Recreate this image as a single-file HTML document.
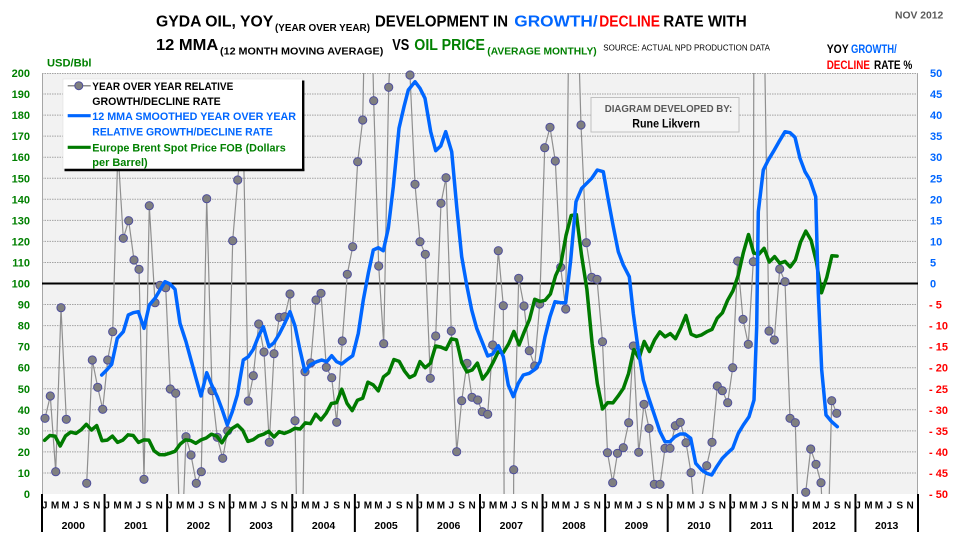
<!DOCTYPE html>
<html><head><meta charset="utf-8"><style>
html,body{margin:0;padding:0;background:#fff;width:960px;height:540px;overflow:hidden;}
svg{display:block;font-family:"Liberation Sans",Arial,sans-serif;font-weight:bold;}
</style></head><body>
<svg width="960" height="540" viewBox="0 0 960 540" xmlns="http://www.w3.org/2000/svg" overflow="hidden">
<defs>
<clipPath id="pc"><rect x="42" y="73" width="876" height="421"/></clipPath>
<marker id="dot" markerUnits="userSpaceOnUse" markerWidth="10" markerHeight="10" refX="5" refY="5" viewBox="0 0 10 10" overflow="visible">
<circle cx="5" cy="5" r="4.1" fill="#7f7f7f" stroke="#4f4f9c" stroke-width="1"/>
</marker>
</defs>
<rect width="960" height="540" fill="#fff"/>

<!-- Titles -->
<text x="156" y="26.7" font-size="16" textLength="117.3" lengthAdjust="spacingAndGlyphs">GYDA OIL, YOY</text>
<text x="275" y="31" font-size="10" textLength="95" lengthAdjust="spacingAndGlyphs">(YEAR OVER YEAR)</text>
<text x="375" y="26.7" font-size="16" textLength="133" lengthAdjust="spacingAndGlyphs">DEVELOPMENT IN</text>
<text x="514.3" y="26.7" font-size="16" fill="#0066ff" textLength="83.4" lengthAdjust="spacingAndGlyphs">GROWTH/</text>
<text x="599.3" y="26.7" font-size="16" fill="#ff0000" textLength="60.7" lengthAdjust="spacingAndGlyphs">DECLINE</text>
<text x="663.3" y="26.7" font-size="16" textLength="83.4" lengthAdjust="spacingAndGlyphs">RATE WITH</text>

<text x="156" y="50" font-size="16" textLength="62.3" lengthAdjust="spacingAndGlyphs">12 MMA</text>
<text x="220" y="54.3" font-size="10" textLength="163.3" lengthAdjust="spacingAndGlyphs">(12 MONTH MOVING AVERAGE)</text>
<text x="392.3" y="50" font-size="16" textLength="17" lengthAdjust="spacingAndGlyphs">VS</text>
<text x="414.3" y="50" font-size="16" fill="#008000" textLength="70.7" lengthAdjust="spacingAndGlyphs">OIL PRICE</text>
<text x="487.3" y="54.3" font-size="10" fill="#008000" textLength="109.4" lengthAdjust="spacingAndGlyphs">(AVERAGE MONTHLY)</text>
<text x="603.3" y="50.5" font-size="8" font-weight="normal" textLength="166.7" lengthAdjust="spacingAndGlyphs">SOURCE: ACTUAL NPD PRODUCTION DATA</text>

<text x="895" y="18.5" font-size="10" fill="#595959" textLength="48.3" lengthAdjust="spacingAndGlyphs">NOV 2012</text>

<text x="47" y="66.5" font-size="11" fill="#008000" textLength="44.5" lengthAdjust="spacingAndGlyphs">USD/Bbl</text>

<text x="826.7" y="53" font-size="11.5" textLength="22" lengthAdjust="spacingAndGlyphs">YOY</text>
<text x="851" y="53" font-size="11.5" fill="#0066ff" textLength="45.7" lengthAdjust="spacingAndGlyphs">GROWTH/</text>
<text x="826.7" y="69" font-size="11.5" fill="#ff0000" textLength="43.3" lengthAdjust="spacingAndGlyphs">DECLINE</text>
<text x="874" y="69" font-size="11.5" textLength="38.3" lengthAdjust="spacingAndGlyphs">RATE %</text>

<!-- Plot area -->
<rect x="42" y="73" width="876" height="421" fill="#f2f2f2"/>
<g stroke="#a3a3a3" stroke-width="1" stroke-dasharray="1.5,1">
<line x1="42" x2="918" y1="73.5" y2="73.5"/>
<line x1="42" x2="918" y1="94.05" y2="94.05"/>
<line x1="42" x2="918" y1="115.1" y2="115.1"/>
<line x1="42" x2="918" y1="136.15" y2="136.15"/>
<line x1="42" x2="918" y1="157.2" y2="157.2"/>
<line x1="42" x2="918" y1="178.25" y2="178.25"/>
<line x1="42" x2="918" y1="199.3" y2="199.3"/>
<line x1="42" x2="918" y1="220.35" y2="220.35"/>
<line x1="42" x2="918" y1="241.4" y2="241.4"/>
<line x1="42" x2="918" y1="262.45" y2="262.45"/>
<line x1="42" x2="918" y1="304.55" y2="304.55"/>
<line x1="42" x2="918" y1="325.6" y2="325.6"/>
<line x1="42" x2="918" y1="346.65" y2="346.65"/>
<line x1="42" x2="918" y1="367.7" y2="367.7"/>
<line x1="42" x2="918" y1="388.75" y2="388.75"/>
<line x1="42" x2="918" y1="409.8" y2="409.8"/>
<line x1="42" x2="918" y1="430.85" y2="430.85"/>
<line x1="42" x2="918" y1="451.9" y2="451.9"/>
<line x1="42" x2="918" y1="472.95" y2="472.95"/>
</g>
<line x1="42.5" y1="73" x2="42.5" y2="494" stroke="#a6a6a6" stroke-width="1"/>
<line x1="917.5" y1="73" x2="917.5" y2="494" stroke="#a6a6a6" stroke-width="1"/>
<line x1="42" y1="283.5" x2="918" y2="283.5" stroke="#000" stroke-width="2"/>

<!-- Left axis labels -->
<g font-size="11" fill="#008000" text-anchor="end">
<text x="30" y="77">200</text><text x="30" y="98">190</text><text x="30" y="119.1">180</text><text x="30" y="140.2">170</text><text x="30" y="161.2">160</text><text x="30" y="182.3">150</text><text x="30" y="203.3">140</text><text x="30" y="224.4">130</text><text x="30" y="245.4">120</text><text x="30" y="266.5">110</text><text x="30" y="287.5">100</text><text x="30" y="308.6">90</text><text x="30" y="329.6">80</text><text x="30" y="350.7">70</text><text x="30" y="371.7">60</text><text x="30" y="392.8">50</text><text x="30" y="413.8">40</text><text x="30" y="434.9">30</text><text x="30" y="455.9">20</text><text x="30" y="477">10</text><text x="30" y="498">0</text>
</g>
<!-- Right axis labels -->
<g font-size="11" fill="#0066ff">
<text x="930" y="77">50</text><text x="930" y="98">45</text><text x="930" y="119.1">40</text><text x="930" y="140.2">35</text><text x="930" y="161.2">30</text><text x="930" y="182.3">25</text><text x="930" y="203.3">20</text><text x="930" y="224.4">15</text><text x="930" y="245.4">10</text><text x="930" y="266.5">5</text><text x="930" y="287.5">0</text>
</g>
<g font-size="11" fill="#ff0000">
<text x="929" y="308.6">- 5</text><text x="929" y="329.6">- 10</text><text x="929" y="350.7">- 15</text><text x="929" y="371.7">- 20</text><text x="929" y="392.8">- 25</text><text x="929" y="413.8">- 30</text><text x="929" y="434.9">- 35</text><text x="929" y="455.9">- 40</text><text x="929" y="477">- 45</text><text x="929" y="498">- 50</text>
</g>

<!-- Series -->
<g clip-path="url(#pc)" fill="none" stroke-linejoin="round">
<polyline stroke="#8f8f8f" stroke-width="1.2" points="45,418.3 50.3,396 55.7,471.7 61,307.7 66.3,419.3"/>
<polyline stroke="#8f8f8f" stroke-width="1.2" points="86.7,483.3 92.3,360 97.7,387.3 102.7,409.3 107.7,360 112.7,331.7 117.9,150 123.3,238.3 128.7,220.7 134,260 139,269.3 144,479.3 149.3,205.7 155,302.7 160,285.3 165.7,287.7 170.3,389 175.7,393.3 178.8,497 183.7,497 186,436.7 191,455 196.3,483.3 201.3,471.7 206.7,198.7 212,390.7 217.3,437.3 222.7,458.3 227.7,430.7 232.7,240.7 237.7,180 243,120 248.3,401 253.3,375.7 258.7,324 264,352 269.3,442.3 274,353.7 279.3,317.3 284.7,316.7 290,294 295,420.7 296.4,497 303.1,497 305,371.7 310.7,363 316,300 321,293.3 326.3,367.3 331.7,377.7 336.7,422.3 342.3,341 347.3,274.3 352.7,246.7 357.7,161.7 362.7,120 363.7,70 373,70 373.7,100.7 378.7,266 383.7,343.7 388.7,87.3 389.5,70 409.9,70 410,75 415,184.3 420,241.7 425.3,254.3 430.3,378.3 435.7,336 441,203.3 446,177.7 451.3,331 456.7,451.7 461.7,400.7 467,363.3 472,397.3 477.7,400 482.3,411.7 487.7,414.3 492.7,345 498.3,250.7 503.3,305.7 504.1,497 513.6,497 513.7,469.7 518.7,278.3 524,306 529.3,350.7 534.7,366 539.7,304 544.7,147.7 550,127.3 555.3,161 560.7,267.3 565.7,309 568.3,70 579.4,70 581,125 586.3,242.7 591.7,277.3 597,279.3 602.5,341.7 607.5,452.7 612.7,482.7 617.5,453.3 623.3,447.7 628.7,422.7 633.3,346 638.7,452.3 644,404.3 649,428.3 654.3,484.3 660,484.3 665,448.3 670,448.3 675.3,425.7 680.3,422.3 686,442.7 691,472.7 693.2,497 702,497 706.7,465.7 712,442.3 717.3,386 722.3,390.7 727.7,402.7 732.7,367.7 737.7,261 743,319.3 748.3,344.3 753.3,261.7 753.8,70 764.9,70 769,331 774.3,340 779.7,269 785,281.7 790,418.3 795.3,422.7 797.5,497 805.5,497 805.7,492.3 810.7,449 816,464.3 821,482.7 821.7,497 829.2,497 831.7,400.7 836.7,413.3"/>
</g>
<polyline fill="none" stroke="none" marker-start="url(#dot)" marker-mid="url(#dot)" marker-end="url(#dot)" points="45,418.3 50.3,396 55.7,471.7 61,307.7 66.3,419.3 86.7,483.3 92.3,360 97.7,387.3 102.7,409.3 107.7,360 112.7,331.7 123.3,238.3 128.7,220.7 134,260 139,269.3 144,479.3 149.3,205.7 155,302.7 160,285.3 165.7,287.7 170.3,389 175.7,393.3 186,436.7 191,455 196.3,483.3 201.3,471.7 206.7,198.7 212,390.7 217.3,437.3 222.7,458.3 227.7,430.7 232.7,240.7 237.7,180 248.3,401 253.3,375.7 258.7,324 264,352 269.3,442.3 274,353.7 279.3,317.3 284.7,316.7 290,294 295,420.7 305,371.7 310.7,363 316,300 321,293.3 326.3,367.3 331.7,377.7 336.7,422.3 342.3,341 347.3,274.3 352.7,246.7 357.7,161.7 362.7,120 373.7,100.7 378.7,266 383.7,343.7 388.7,87.3 410,75 415,184.3 420,241.7 425.3,254.3 430.3,378.3 435.7,336 441,203.3 446,177.7 451.3,331 456.7,451.7 461.7,400.7 467,363.3 472,397.3 477.7,400 482.3,411.7 487.7,414.3 492.7,345 498.3,250.7 503.3,305.7 513.7,469.7 518.7,278.3 524,306 529.3,350.7 534.7,366 539.7,304 544.7,147.7 550,127.3 555.3,161 560.7,267.3 565.7,309 581,125 586.3,242.7 591.7,277.3 597,279.3 602.5,341.7 607.5,452.7 612.7,482.7 617.5,453.3 623.3,447.7 628.7,422.7 633.3,346 638.7,452.3 644,404.3 649,428.3 654.3,484.3 660,484.3 665,448.3 670,448.3 675.3,425.7 680.3,422.3 686,442.7 691,472.7 706.7,465.7 712,442.3 717.3,386 722.3,390.7 727.7,402.7 732.7,367.7 737.7,261 743,319.3 748.3,344.3 753.3,261.7 769,331 774.3,340 779.7,269 785,281.7 790,418.3 795.3,422.7 805.7,492.3 810.7,449 816,464.3 821,482.7 831.7,400.7 836.7,413.3"/>

<g clip-path="url(#pc)" fill="none" stroke-linejoin="round" stroke-linecap="round">
<polyline stroke="#007a00" stroke-width="3.5" points="44.6,440.3 49.8,435.5 55,436.1 60.2,446 65.5,435.9 70.7,432.1 75.9,433.4 81.1,429.8 86.3,424.3 91.5,430 96.7,425.6 102,440.7 107.2,440.1 112.4,436.1 117.6,442.4 122.8,440.1 128,434.8 133.2,435.5 138.5,442.4 143.7,439.9 148.9,440.1 154.1,450.8 159.3,454.6 164.5,454.8 169.7,453.2 175,451.3 180.2,444.1 185.4,439.9 190.6,440.5 195.8,443.3 201,439.9 206.2,438 211.4,434.2 216.7,436.1 221.9,442.8 227.1,434.4 232.3,428.3 237.5,425 242.7,430.2 247.9,441.4 253.2,439.7 258.4,435.9 263.6,434.2 268.8,431.3 274,437 279.2,431.7 284.4,433.4 289.7,431.3 294.9,428.3 300.1,429 305.3,422.9 310.5,423.7 315.7,414.2 320.9,419.9 326.2,413.2 331.4,403.5 336.6,402.6 341.8,389.2 347,403.3 352.2,410.6 357.4,400.3 362.7,398.2 367.9,382.2 373.1,384.8 378.3,390.9 383.5,376.9 388.7,372.9 393.9,359.5 399.2,361.4 404.4,370.9 409.6,377.6 414.8,374.9 420,361.6 425.2,367.7 430.4,363.3 435.6,346 440.9,347.1 446.1,349.4 451.3,338.9 456.5,339.9 461.7,362.4 466.9,371.9 472.1,370 477.4,363.1 482.6,379.1 487.8,372.3 493,362.6 498.2,351.9 503.4,352.5 508.6,343.9 513.9,331.5 519.1,344.9 524.3,331.7 529.5,319.5 534.7,299.3 539.9,301.4 545.1,300.3 550.4,294 555.6,275.7 560.8,264.3 566,235.5 571.2,215.5 576.4,214.7 581.6,255.7 586.9,289.4 592.1,343.3 597.3,383.5 602.5,409 607.7,402.6 612.9,402.9 618.1,396.1 623.4,388.3 628.6,373.4 633.8,349.6 639,358.4 644.2,341.4 649.4,351.5 654.6,339.9 659.9,331.9 665.1,336.8 670.3,333.6 675.5,338.7 680.7,328.1 685.9,315.5 691.1,334.2 696.4,336.5 701.6,334.9 706.8,331.7 712,329.4 717.2,318.2 722.4,312.8 727.6,300.3 732.9,290.9 738.1,275.7 743.3,252.8 748.5,234.5 753.7,253 758.9,254.2 764.1,248.3 769.3,262 774.6,256.6 779.8,263.3 785,261.4 790.2,266.9 795.4,259.9 800.6,242 805.8,231.1 811.1,240.3 816.3,261.4 821.5,292.8 826.7,277.6 831.9,255.7 837.1,256.1"/>
<polyline stroke="#0066ff" stroke-width="3.5" points="101.7,375 106.7,370 111.7,364.3 117.3,338.3 123.3,331.7 128.3,315 133.3,312.7 138.3,311.7 144,328.3 149.3,305 155,298.3 160,290 165,281.7 170,284 175,289.3 180,323.3 186,341.7 191,360 196,378.3 201,396 206.7,372.7 211.7,385 217.3,396.7 222.3,410 227.3,425 232.3,411.7 237.3,395 243.3,360 248.3,356.7 253.3,349.3 258.3,336.7 263.3,326.7 269,346.7 274,342.7 279.3,334 285,322.7 290,311.7 295,326 300,350 305,371.7 310,365 316.7,361.7 321.7,360 326.7,361.7 331.7,355.7 336.7,361.7 341.7,364 346.7,360 352.7,355.7 358.3,333.3 363.3,300 368.3,273.3 373.3,250 378.3,247.7 383.3,250.7 388.3,228.3 393.3,186.7 399,128.3 404,106.7 408.3,90 415,81.7 420,88.3 425,98.3 430.7,131.7 435.7,150.7 440.7,146 445.7,131.7 451.7,151.7 456.7,206.7 461.7,256.7 466.7,285 471.7,310 476.7,328.3 482.7,343.3 487.7,356 492.7,354 498.3,345.7 503.3,356.7 508.3,385 513.3,396.7 518.3,383.3 523.3,375 529.3,373.3 535,369.3 540,361.7 545,336.7 550,316.7 555,301.7 560.7,302.7 565.7,302.7 570.7,260 576,201.7 581.7,188.3 586.7,183.3 591.7,178.3 597.3,170 603.3,171.7 608.3,200 613.3,226.7 618.3,251.7 623.3,265 629.3,276.7 633.3,313.3 638.3,350 643.3,380 648.3,396.7 655,416.7 660,431.7 665,441.7 670,441.7 675,436.7 680,434 685,434 690.7,438.3 695.7,463.3 701.7,470 706.7,473.3 711.7,475 716.7,466.7 722.3,458.3 727.3,453.3 732.7,448.3 738.3,433.3 743.3,425 749,416.7 754,400 756.7,326.7 758.3,211.7 763.3,170 768.3,160 773.3,151.7 779,141.7 785,131.7 790,132.7 795,137.3 800,158.3 805,171.7 810,180 815.7,196.7 818.3,293.3 821.7,370 826,415 831.7,421.7 837.3,426.7"/>
</g>

<!-- X axis -->
<g stroke="#000" stroke-width="2">
<line x1="42" y1="494" x2="42" y2="532"/><line x1="104.57" y1="494" x2="104.57" y2="532"/><line x1="167.14" y1="494" x2="167.14" y2="532"/><line x1="229.71" y1="494" x2="229.71" y2="532"/><line x1="292.29" y1="494" x2="292.29" y2="532"/><line x1="354.86" y1="494" x2="354.86" y2="532"/><line x1="417.43" y1="494" x2="417.43" y2="532"/><line x1="480" y1="494" x2="480" y2="532"/><line x1="542.57" y1="494" x2="542.57" y2="532"/><line x1="605.14" y1="494" x2="605.14" y2="532"/><line x1="667.71" y1="494" x2="667.71" y2="532"/><line x1="730.29" y1="494" x2="730.29" y2="532"/><line x1="792.86" y1="494" x2="792.86" y2="532"/><line x1="855.43" y1="494" x2="855.43" y2="532"/><line x1="918" y1="494" x2="918" y2="532"/>
</g>
<g font-size="10" text-anchor="middle">
<text transform="translate(42,0)" x="2.6 13 23.5 33.9 44.3 54.7" y="508.5">JMMJSN</text>
<text transform="translate(104.57,0)" x="2.6 13 23.5 33.9 44.3 54.7" y="508.5">JMMJSN</text>
<text transform="translate(167.14,0)" x="2.6 13 23.5 33.9 44.3 54.7" y="508.5">JMMJSN</text>
<text transform="translate(229.71,0)" x="2.6 13 23.5 33.9 44.3 54.7" y="508.5">JMMJSN</text>
<text transform="translate(292.29,0)" x="2.6 13 23.5 33.9 44.3 54.7" y="508.5">JMMJSN</text>
<text transform="translate(354.86,0)" x="2.6 13 23.5 33.9 44.3 54.7" y="508.5">JMMJSN</text>
<text transform="translate(417.43,0)" x="2.6 13 23.5 33.9 44.3 54.7" y="508.5">JMMJSN</text>
<text transform="translate(480,0)" x="2.6 13 23.5 33.9 44.3 54.7" y="508.5">JMMJSN</text>
<text transform="translate(542.57,0)" x="2.6 13 23.5 33.9 44.3 54.7" y="508.5">JMMJSN</text>
<text transform="translate(605.14,0)" x="2.6 13 23.5 33.9 44.3 54.7" y="508.5">JMMJSN</text>
<text transform="translate(667.71,0)" x="2.6 13 23.5 33.9 44.3 54.7" y="508.5">JMMJSN</text>
<text transform="translate(730.29,0)" x="2.6 13 23.5 33.9 44.3 54.7" y="508.5">JMMJSN</text>
<text transform="translate(792.86,0)" x="2.6 13 23.5 33.9 44.3 54.7" y="508.5">JMMJSN</text>
<text transform="translate(855.43,0)" x="2.6 13 23.5 33.9 44.3 54.7" y="508.5">JMMJSN</text>
</g>
<g font-size="10.5" text-anchor="middle">
<text x="73.3" y="529">2000</text><text x="135.9" y="529">2001</text><text x="198.4" y="529">2002</text><text x="261" y="529">2003</text><text x="323.6" y="529">2004</text><text x="386.1" y="529">2005</text><text x="448.7" y="529">2006</text><text x="511.3" y="529">2007</text><text x="573.9" y="529">2008</text><text x="636.4" y="529">2009</text><text x="699" y="529">2010</text><text x="761.6" y="529">2011</text><text x="824.1" y="529">2012</text><text x="886.7" y="529">2013</text>
</g>

<!-- Legend -->
<rect x="63" y="79" width="239.5" height="90" fill="#fff" stroke="#e0e0e0" stroke-width="0.6"/>
<line x1="303.2" y1="80.5" x2="303.2" y2="171" stroke="#000" stroke-width="2.4"/>
<line x1="64.5" y1="170" x2="304.4" y2="170" stroke="#000" stroke-width="2.4"/>
<line x1="67.7" y1="85.7" x2="90.7" y2="85.7" stroke="#8f8f8f" stroke-width="1.5"/>
<circle cx="78.8" cy="85.7" r="4" fill="#7f7f7f" stroke="#4f4f9c" stroke-width="1"/>
<line x1="67.7" y1="115.7" x2="90.7" y2="115.7" stroke="#0066ff" stroke-width="3.2"/>
<line x1="67.7" y1="147.3" x2="90.7" y2="147.3" stroke="#007a00" stroke-width="3.2"/>
<g font-size="11">
<text x="92.3" y="90" textLength="141" lengthAdjust="spacingAndGlyphs">YEAR OVER YEAR RELATIVE</text>
<text x="92.3" y="105" textLength="128.4" lengthAdjust="spacingAndGlyphs">GROWTH/DECLINE RATE</text>
<text x="92.3" y="120" fill="#0066ff" textLength="203.7" lengthAdjust="spacingAndGlyphs">12 MMA SMOOTHED YEAR OVER YEAR</text>
<text x="92.3" y="135.3" fill="#0066ff" textLength="180.4" lengthAdjust="spacingAndGlyphs">RELATIVE GROWTH/DECLINE RATE</text>
<text x="92.3" y="151.3" fill="#008000" textLength="193.4" lengthAdjust="spacingAndGlyphs">Europe Brent Spot Price FOB (Dollars</text>
<text x="92.3" y="166" fill="#008000" textLength="55.4" lengthAdjust="spacingAndGlyphs">per Barrel)</text>
</g>

<!-- Diagram developed by -->
<rect x="591" y="97.5" width="148" height="34.5" fill="#f4f4f4" stroke="#c0c0c0" stroke-width="1"/>
<text x="604.7" y="112" font-size="10.5" fill="#595959" textLength="127.6" lengthAdjust="spacingAndGlyphs">DIAGRAM DEVELOPED BY:</text>
<text x="632.3" y="127.5" font-size="11.5" fill="#000" textLength="67.7" lengthAdjust="spacingAndGlyphs">Rune Likvern</text>
</svg>
</body></html>
